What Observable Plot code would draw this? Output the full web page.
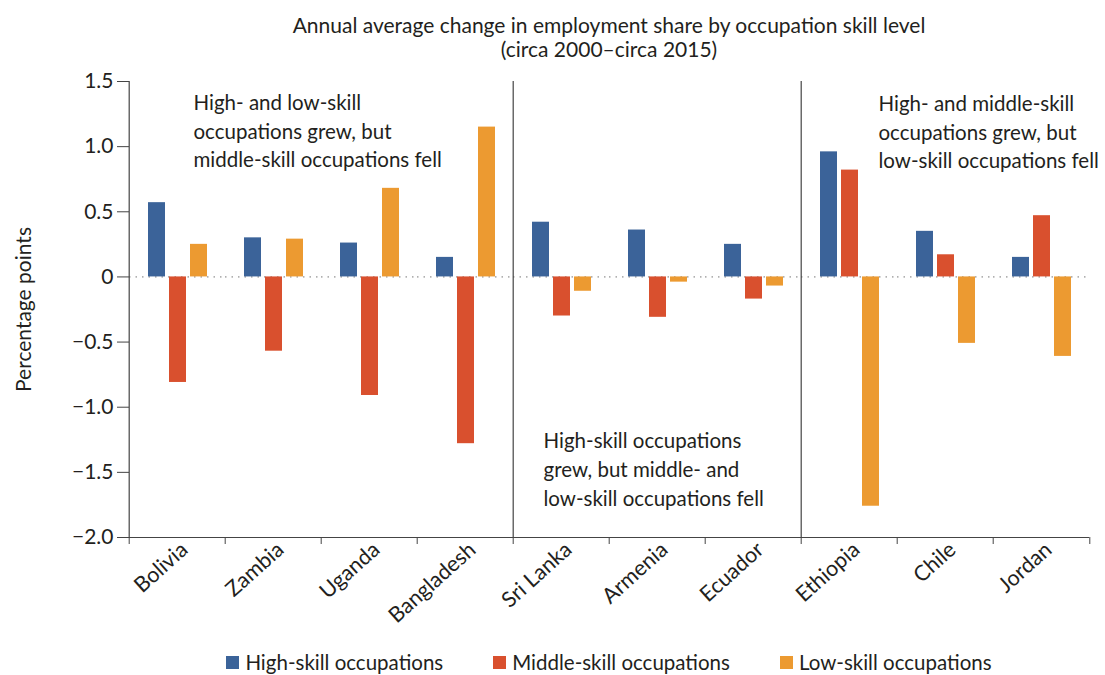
<!DOCTYPE html>
<html>
<head>
<meta charset="utf-8">
<script src="https://cdn.jsdelivr.net/npm/d3@7"></script>
<script src="https://cdn.jsdelivr.net/npm/@observablehq/plot@0.6"></script>
<style>
  html, body { margin: 0; padding: 0; background: #fff; }
  body { width: 1105px; height: 675px; position: relative; overflow: hidden; font-family: Lato, "Open Sans", sans-serif; color: #231f20; }
  #title { position: absolute; left: 126px; width: 966px; top: 13px; text-align: center; font-size: 21px; line-height: 24px; }
  #chart { position: absolute; left: 0; top: 0; }
  #legend { position: absolute; left: 126px; width: 966px; top: 650px; display: flex; justify-content: center; gap: 50px; font-size: 20.5px; line-height: 24px; }
  .item { display: flex; align-items: center; }
  .sw { width: 13px; height: 13px; margin-right: 6px; display: inline-block; }
</style>
</head>
<body>
<div id="title">Annual average change in employment share by occupation skill level<br>(circa 2000–circa 2015)</div>
<div id="chart"></div>
<div id="legend"></div>
<script>
const countries = ["Bolivia", "Zambia", "Uganda", "Bangladesh", "Sri Lanka", "Armenia", "Ecuador", "Ethiopia", "Chile", "Jordan"];
const seriesNames = ["High-skill occupations", "Middle-skill occupations", "Low-skill occupations"];
const highSkill   = [0.57, 0.30, 0.26, 0.15, 0.42, 0.36, 0.25, 0.96, 0.35, 0.15];
const middleSkill = [-0.81, -0.57, -0.91, -1.28, -0.30, -0.31, -0.17, 0.82, 0.17, 0.47];
const lowSkill    = [0.25, 0.29, 0.68, 1.15, -0.11, -0.04, -0.07, -1.76, -0.51, -0.61];
const yTicks = [1.5, 1.0, 0.5, 0, -0.5, -1.0, -1.5, -2.0];
const colors = ["#3b6399", "#d9502e", "#ec9a31"];
const separators = ["Bolivia", "Sri Lanka", "Ethiopia"];
const annotations = [
  {country: "Bolivia", text: "High- and low-skill\noccupations grew, but\nmiddle-skill occupations fell"},
  {country: "Sri Lanka", text: "High-skill occupations\ngrew, but middle- and\nlow-skill occupations fell"},
  {country: "Ethiopia", text: "High- and middle-skill\noccupations grew, but\nlow-skill occupations fell"}
];

const seriesValues = [highSkill, middleSkill, lowSkill];
const data = [];
countries.forEach((c, i) => seriesNames.forEach((s, j) => data.push({country: c, series: s, value: seriesValues[j][i]})));

const W = 1105, H = 630, mL = 126, mR = 13, mT = 81, mB = 93;
const step = (W - mL - mR) / countries.length;
const font = "Lato, 'Open Sans', sans-serif";
const ink = "#231f20";
const fmt = d => d === 0 ? "0" : d3.format(".1f")(d);

const chart = Plot.plot({
  width: W, height: H,
  marginTop: mT, marginBottom: mB, marginLeft: mL, marginRight: mR,
  style: {fontFamily: font, fontSize: "20px", color: ink, background: "transparent", overflow: "visible"},
  fx: {domain: countries, padding: 0, label: null},
  x: {domain: seriesNames, paddingInner: 0.2, paddingOuter: 0.87, axis: null},
  y: {domain: [-2, 1.5]},
  color: {domain: seriesNames, range: colors},
  marks: [
    Plot.ruleY([0], {stroke: "#777", strokeDasharray: "1.5,5"}),
    Plot.barY(data, {fx: "country", x: "series", y: "value", fill: "series"}),
    Plot.ruleY([-2], {stroke: "#444", strokeWidth: 1.2}),
    Plot.gridFx({ticks: separators, dx: -step / 2, stroke: "#444", strokeOpacity: 1, strokeWidth: 1.2}),
    Plot.axisFx({ticks: countries, anchor: "bottom", tickSize: 7, tickFormat: () => "", label: null, dx: -step / 2, stroke: "#444"}),
    Plot.axisFx({ticks: ["Jordan"], anchor: "bottom", tickSize: 7, tickFormat: () => "", label: null, dx: step / 2, stroke: "#444"}),
    Plot.axisFx({anchor: "bottom", tickSize: 0, tickRotate: -42, tickPadding: 9, label: null, fontSize: 21.5, dx: 7, fill: ink}),
    Plot.axisY({ticks: yTicks, tickSize: 12, tickPadding: 4, tickFormat: fmt, fontSize: 21, stroke: "#444", fill: ink,
      label: "Percentage points", labelAnchor: "center", labelOffset: 113, labelArrow: false}),
    Plot.text(annotations, {fx: "country", text: "text", frameAnchor: "top-left", textAnchor: "start", lineAnchor: "top",
      dx: 64, dy: 8, fontSize: 20.5, lineHeight: 1.4, fill: ink, filter: d => d.country === "Bolivia"}),
    Plot.text(annotations, {fx: "country", text: "text", frameAnchor: "bottom-left", textAnchor: "start", lineAnchor: "bottom",
      dx: 30, dy: -32, fontSize: 20.5, lineHeight: 1.4, fill: ink, filter: d => d.country === "Sri Lanka"}),
    Plot.text(annotations, {fx: "country", text: "text", frameAnchor: "top-left", textAnchor: "start", lineAnchor: "top",
      dx: 77, dy: 9, fontSize: 20.5, lineHeight: 1.4, fill: ink, filter: d => d.country === "Ethiopia"})
  ]
});
document.getElementById("chart").appendChild(chart);

const legend = document.getElementById("legend");
seriesNames.forEach((s, i) => {
  const item = document.createElement("div");
  item.className = "item";
  const sw = document.createElement("span");
  sw.className = "sw";
  sw.style.background = colors[i];
  item.appendChild(sw);
  item.appendChild(document.createTextNode(s));
  legend.appendChild(item);
});
</script>
</body>
</html>
